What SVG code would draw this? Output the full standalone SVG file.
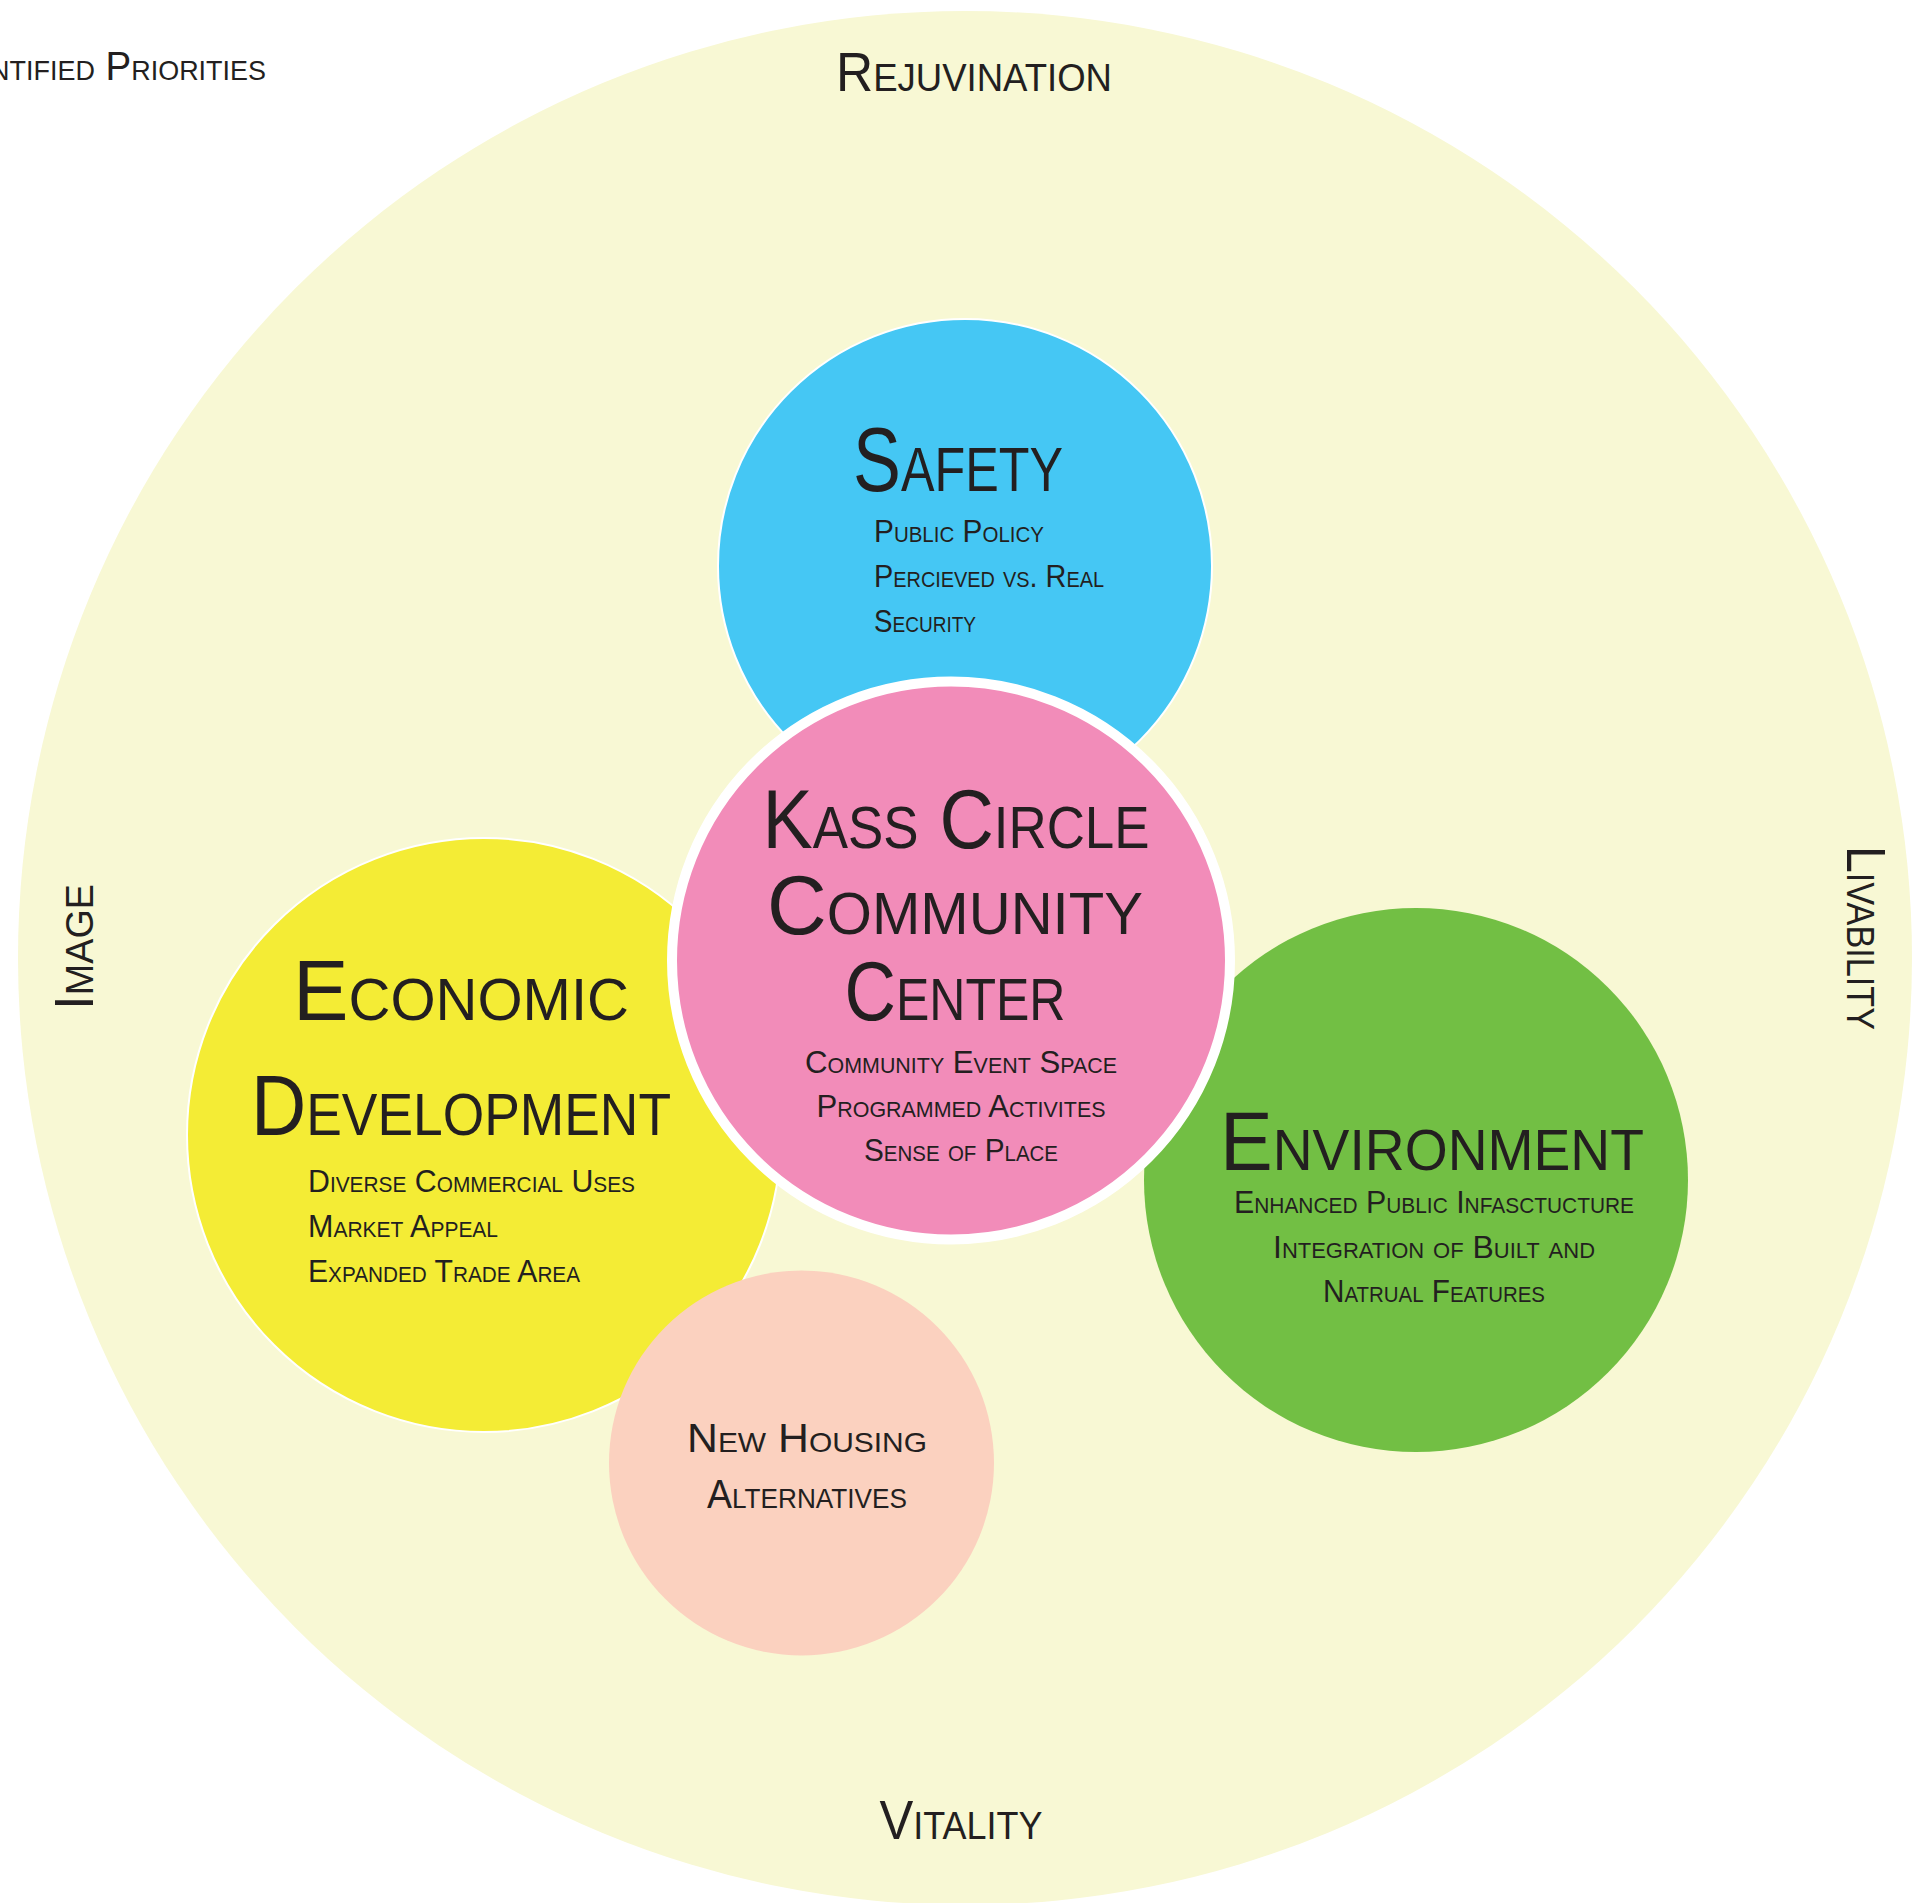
<svg xmlns="http://www.w3.org/2000/svg" width="1919" height="1903" viewBox="0 0 1919 1903">
  <style>
    .t { font-family: "Liberation Sans", Arial, sans-serif; font-variant: small-caps; fill: #231F20; }
    .theme { font-size: 55px; }
    .head { font-size: 86px; }
    .item { font-size: 32px; }
    .mid { text-anchor: middle; }
    .thin { stroke: #FFFFFF; stroke-width: 2; }
  </style>
  <rect width="1919" height="1903" fill="#FFFFFF"/>

  <!-- outer field of priorities -->
  <g id="priorities">
    <circle cx="965" cy="958" r="947" fill="#F8F8D4"/>
    <text class="t" x="266" y="80" font-size="40" text-anchor="end" textLength="324" lengthAdjust="spacingAndGlyphs">Identified Priorities</text>
    <text class="t theme mid" x="974" y="91" textLength="276" lengthAdjust="spacingAndGlyphs">Rejuvination</text>
    <text class="t theme mid" x="961" y="1839" textLength="163" lengthAdjust="spacingAndGlyphs">Vitality</text>
    <text class="t theme mid" transform="translate(93 947) rotate(-90)" textLength="126" lengthAdjust="spacingAndGlyphs">Image</text>
    <text class="t theme mid" transform="translate(1847 938) rotate(90)" textLength="184" lengthAdjust="spacingAndGlyphs">Livability</text>
  </g>

  <g id="connectors"></g>

  <!-- economic development -->
  <g id="economic-development">
    <circle class="thin" cx="484" cy="1135" r="297" fill="#F4EC35"/>
    <text class="t head mid" x="461" y="1020" textLength="336" lengthAdjust="spacingAndGlyphs">Economic</text>
    <text class="t head mid" x="461" y="1135" textLength="420" lengthAdjust="spacingAndGlyphs">Development</text>
    <text class="t item" x="308" y="1192" font-size="33" textLength="327" lengthAdjust="spacingAndGlyphs">Diverse Commercial Uses</text>
    <text class="t item" x="308" y="1237" font-size="33" textLength="190" lengthAdjust="spacingAndGlyphs">Market Appeal</text>
    <text class="t item" x="308" y="1282" font-size="33" textLength="272" lengthAdjust="spacingAndGlyphs">Expanded Trade Area</text>
  </g>

  <!-- new housing -->
  <g id="new-housing">
    <circle cx="801.5" cy="1463" r="192.5" fill="#FBD1BF"/>
    <text class="t mid" x="807" y="1452" font-size="40" textLength="240" lengthAdjust="spacingAndGlyphs">New Housing</text>
    <text class="t mid" x="807" y="1508" font-size="40" textLength="200" lengthAdjust="spacingAndGlyphs">Alternatives</text>
  </g>

  <!-- safety -->
  <g id="safety">
    <circle class="thin" cx="965" cy="566" r="247" fill="#45C7F4"/>
    <text class="t mid" x="958" y="491" font-size="90" textLength="210" lengthAdjust="spacingAndGlyphs">Safety</text>
    <text class="t item" x="874" y="542" textLength="170" lengthAdjust="spacingAndGlyphs">Public Policy</text>
    <text class="t item" x="874" y="587" textLength="230" lengthAdjust="spacingAndGlyphs">Percieved vs. Real</text>
    <text class="t item" x="874" y="632" textLength="102" lengthAdjust="spacingAndGlyphs">Security</text>
  </g>

  <!-- environment -->
  <g id="environment">
    <circle cx="1416" cy="1180" r="272" fill="#72BF44"/>
    <text class="t mid" x="1432" y="1170" font-size="83" textLength="424" lengthAdjust="spacingAndGlyphs">Environment</text>
    <text class="t item mid" x="1434" y="1213" textLength="400" lengthAdjust="spacingAndGlyphs">Enhanced Public Infasctucture</text>
    <text class="t item mid" x="1434" y="1258" textLength="322" lengthAdjust="spacingAndGlyphs">Integration of Built and</text>
    <text class="t item mid" x="1434" y="1302" textLength="222" lengthAdjust="spacingAndGlyphs">Natrual Features</text>
  </g>

  <!-- community center, drawn last so its white ring sits over its neighbours -->
  <g id="community-center">
    <circle cx="951" cy="960.5" r="279" fill="#F28CB9" stroke="#FFFFFF" stroke-width="10"/>
    <text class="t mid" x="956" y="848" font-size="84" textLength="387" lengthAdjust="spacingAndGlyphs">Kass Circle</text>
    <text class="t mid" x="955" y="934" font-size="84" textLength="376" lengthAdjust="spacingAndGlyphs">Community</text>
    <text class="t mid" x="955" y="1020" font-size="84" textLength="221" lengthAdjust="spacingAndGlyphs">Center</text>
    <text class="t item mid" x="961" y="1073" textLength="312" lengthAdjust="spacingAndGlyphs">Community Event Space</text>
    <text class="t item mid" x="961" y="1117" textLength="289" lengthAdjust="spacingAndGlyphs">Programmed Activites</text>
    <text class="t item mid" x="961" y="1161" textLength="194" lengthAdjust="spacingAndGlyphs">Sense of Place</text>
  </g>
</svg>
